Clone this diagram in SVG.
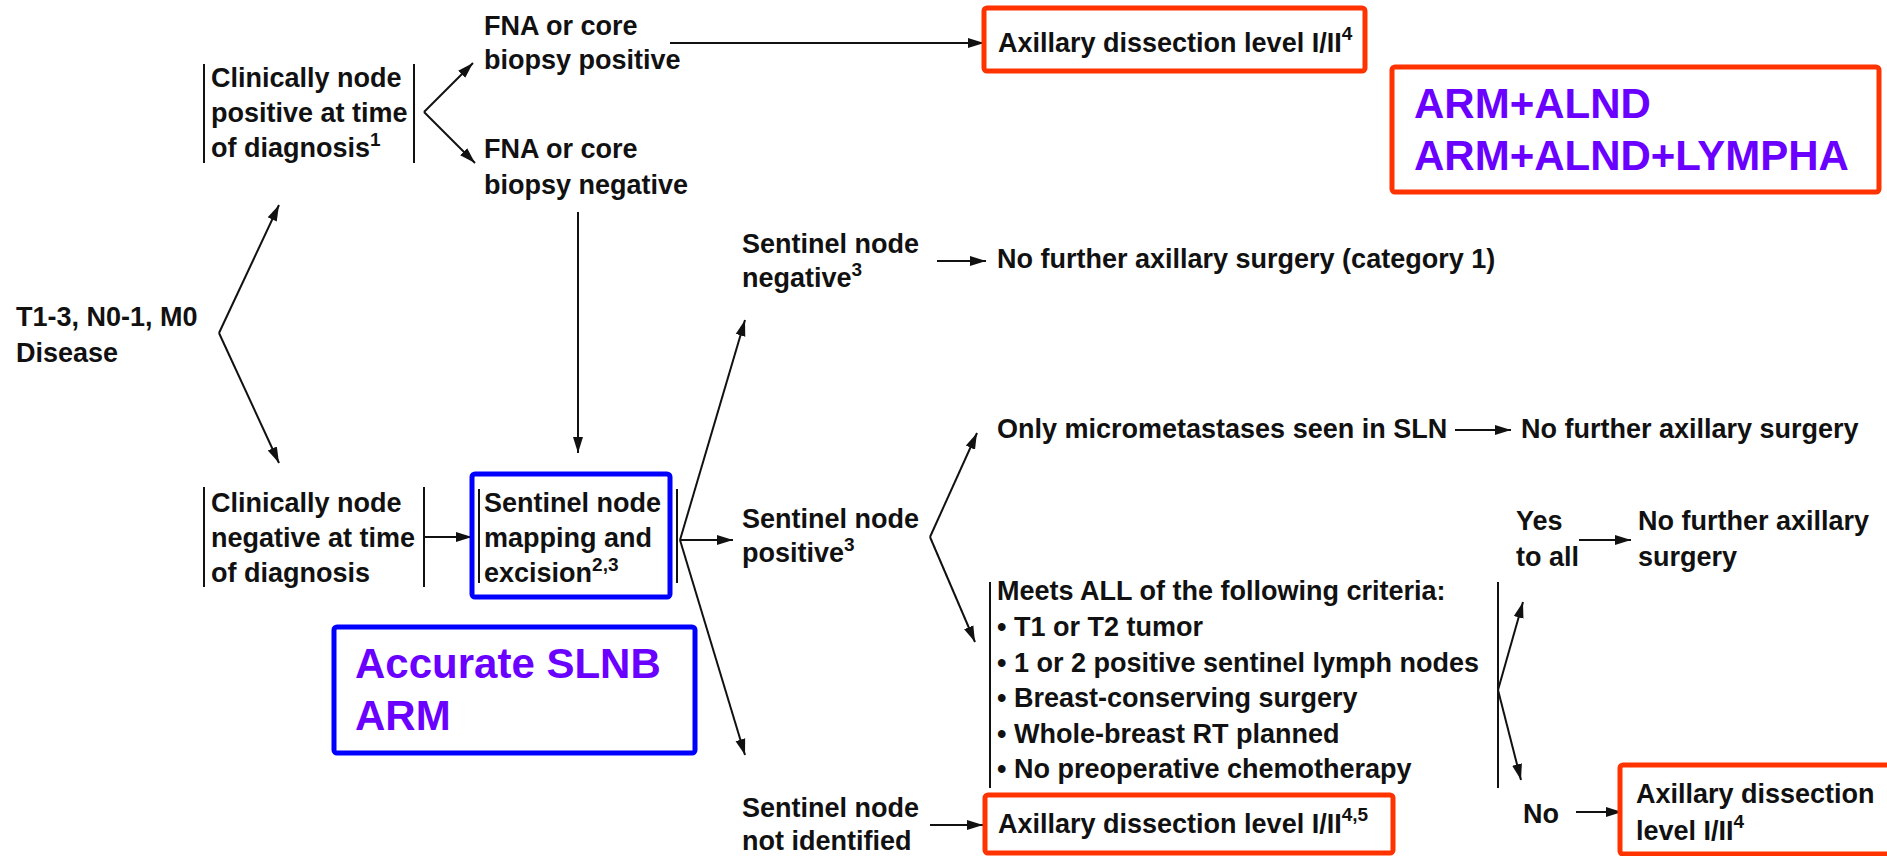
<svg xmlns="http://www.w3.org/2000/svg" width="1887" height="856" viewBox="0 0 1887 856">
<style>
text{font-family:"Liberation Sans",Arial,sans-serif;font-weight:bold;fill:#111}
.t{font-size:27px}
.sup{font-size:19px}
.big{font-size:42px;fill:#6A00FF}
.bar{stroke:#111;stroke-width:2;fill:none}
.con{stroke:#111;stroke-width:2;fill:none;marker-end:url(#ah)}
.red{fill:none;stroke:#FF3300;stroke-width:5}
.blue{fill:none;stroke:#0000FF;stroke-width:5}
</style>
<defs>
<marker id="ah" markerUnits="userSpaceOnUse" markerWidth="17" markerHeight="12" refX="16" refY="6" orient="auto">
<path d="M0,1 L16,6 L0,11 z" fill="#111"/>
</marker>
</defs>
<rect width="1887" height="856" fill="#fff"/>

<g id="connectors">
<path class="con" d="M219,333 L279,205"/>
<path class="con" d="M219,333 L279,463"/>
<path class="con" d="M424,112 L473,63"/>
<path class="con" d="M424,112 L475,163"/>
<path class="con" d="M670,43 L984,43"/>
<path class="con" d="M578,212 L578,453"/>
<path class="con" d="M424,537 L472,537"/>
<path class="con" d="M680,540 L745,320"/>
<path class="con" d="M680,540 L733,540"/>
<path class="con" d="M680,540 L745,755"/>
<path class="con" d="M937,261 L986,261"/>
<path class="con" d="M930,537 L977,433"/>
<path class="con" d="M930,537 L975,642"/>
<path class="con" d="M1455,430 L1511,430"/>
<path class="con" d="M1579,540 L1631,540"/>
<path class="con" d="M1498,690 L1523,602"/>
<path class="con" d="M1498,690 L1521,780"/>
<path class="con" d="M1576,812 L1622,812"/>
<path class="con" d="M930,825 L983,825"/>
</g>

<g id="n-t13">
<text class="t" x="16" y="326">T1-3, N0-1, M0</text>
<text class="t" x="16" y="362">Disease</text>
</g>

<g id="n-clin-pos">
<path class="bar" d="M204,64 V163 M414,64 V163"/>
<text class="t" x="211" y="87">Clinically node</text>
<text class="t" x="211" y="122">positive at time</text>
<text class="t" x="211" y="157">of diagnosis<tspan class="sup" dy="-11">1</tspan></text>
</g>

<g id="n-fna-pos">
<text class="t" x="484" y="35">FNA or core</text>
<text class="t" x="484" y="69">biopsy positive</text>
</g>

<g id="n-fna-neg">
<text class="t" x="484" y="158">FNA or core</text>
<text class="t" x="484" y="194">biopsy negative</text>
</g>

<g id="n-axd-top">
<rect class="red" x="984" y="8" width="381" height="63" rx="3"/>
<text class="t" x="998" y="52">Axillary dissection level I/II<tspan class="sup" dy="-12">4</tspan></text>
</g>

<g id="n-arm">
<rect class="red" x="1392" y="67" width="487" height="125" rx="3"/>
<text class="big" x="1414" y="118">ARM+ALND</text>
<text class="big" x="1414" y="170">ARM+ALND+LYMPHA</text>
</g>

<g id="n-sln-neg">
<text class="t" x="742" y="253">Sentinel node</text>
<text class="t" x="742" y="287">negative<tspan class="sup" dy="-11">3</tspan></text>
</g>

<g id="n-nofurther-cat1">
<text class="t" x="997" y="268">No further axillary surgery (category 1)</text>
</g>

<g id="n-clin-neg">
<path class="bar" d="M204,487 V587 M424,487 V587"/>
<text class="t" x="211" y="512">Clinically node</text>
<text class="t" x="211" y="547">negative at time</text>
<text class="t" x="211" y="582">of diagnosis</text>
</g>

<g id="n-sln-map">
<rect class="blue" x="472" y="474" width="198" height="123" rx="3"/>
<path class="bar" d="M479,489 V583 M677,489 V583"/>
<text class="t" x="484" y="512">Sentinel node</text>
<text class="t" x="484" y="547">mapping and</text>
<text class="t" x="484" y="582">excision<tspan class="sup" dy="-11">2,3</tspan></text>
</g>

<g id="n-accurate">
<rect class="blue" x="334" y="627" width="361" height="126" rx="3"/>
<text class="big" x="355" y="678">Accurate SLNB</text>
<text class="big" x="355" y="730">ARM</text>
</g>

<g id="n-sln-pos">
<text class="t" x="742" y="528">Sentinel node</text>
<text class="t" x="742" y="562">positive<tspan class="sup" dy="-11">3</tspan></text>
</g>

<g id="n-micro">
<text class="t" x="997" y="438">Only micrometastases seen in SLN</text>
</g>

<g id="n-nofurther-1">
<text class="t" x="1521" y="438">No further axillary surgery</text>
</g>

<g id="n-criteria">
<path class="bar" d="M990,582 V788 M1498,582 V788"/>
<text class="t" x="997" y="600">Meets ALL of the following criteria:</text>
<text class="t" x="997" y="636">• T1 or T2 tumor</text>
<text class="t" x="997" y="672">• 1 or 2 positive sentinel lymph nodes</text>
<text class="t" x="997" y="707">• Breast-conserving surgery</text>
<text class="t" x="997" y="743">• Whole-breast RT planned</text>
<text class="t" x="997" y="778">• No preoperative chemotherapy</text>
</g>

<g id="n-yes">
<text class="t" x="1516" y="530">Yes</text>
<text class="t" x="1516" y="566">to all</text>
</g>

<g id="n-nofurther-2">
<text class="t" x="1638" y="530">No further axillary</text>
<text class="t" x="1638" y="566">surgery</text>
</g>

<g id="n-no">
<text class="t" x="1523" y="823">No</text>
</g>

<g id="n-axd-right">
<rect class="red" x="1620" y="765" width="280" height="89" rx="3"/>
<text class="t" x="1636" y="803">Axillary dissection</text>
<text class="t" x="1636" y="840">level I/II<tspan class="sup" dy="-12">4</tspan></text>
</g>

<g id="n-sln-notid">
<text class="t" x="742" y="817">Sentinel node</text>
<text class="t" x="742" y="850">not identified</text>
</g>

<g id="n-axd-mid">
<rect class="red" x="985" y="795" width="408" height="58" rx="3"/>
<text class="t" x="998" y="833">Axillary dissection level I/II<tspan class="sup" dy="-12">4,5</tspan></text>
</g>
</svg>
